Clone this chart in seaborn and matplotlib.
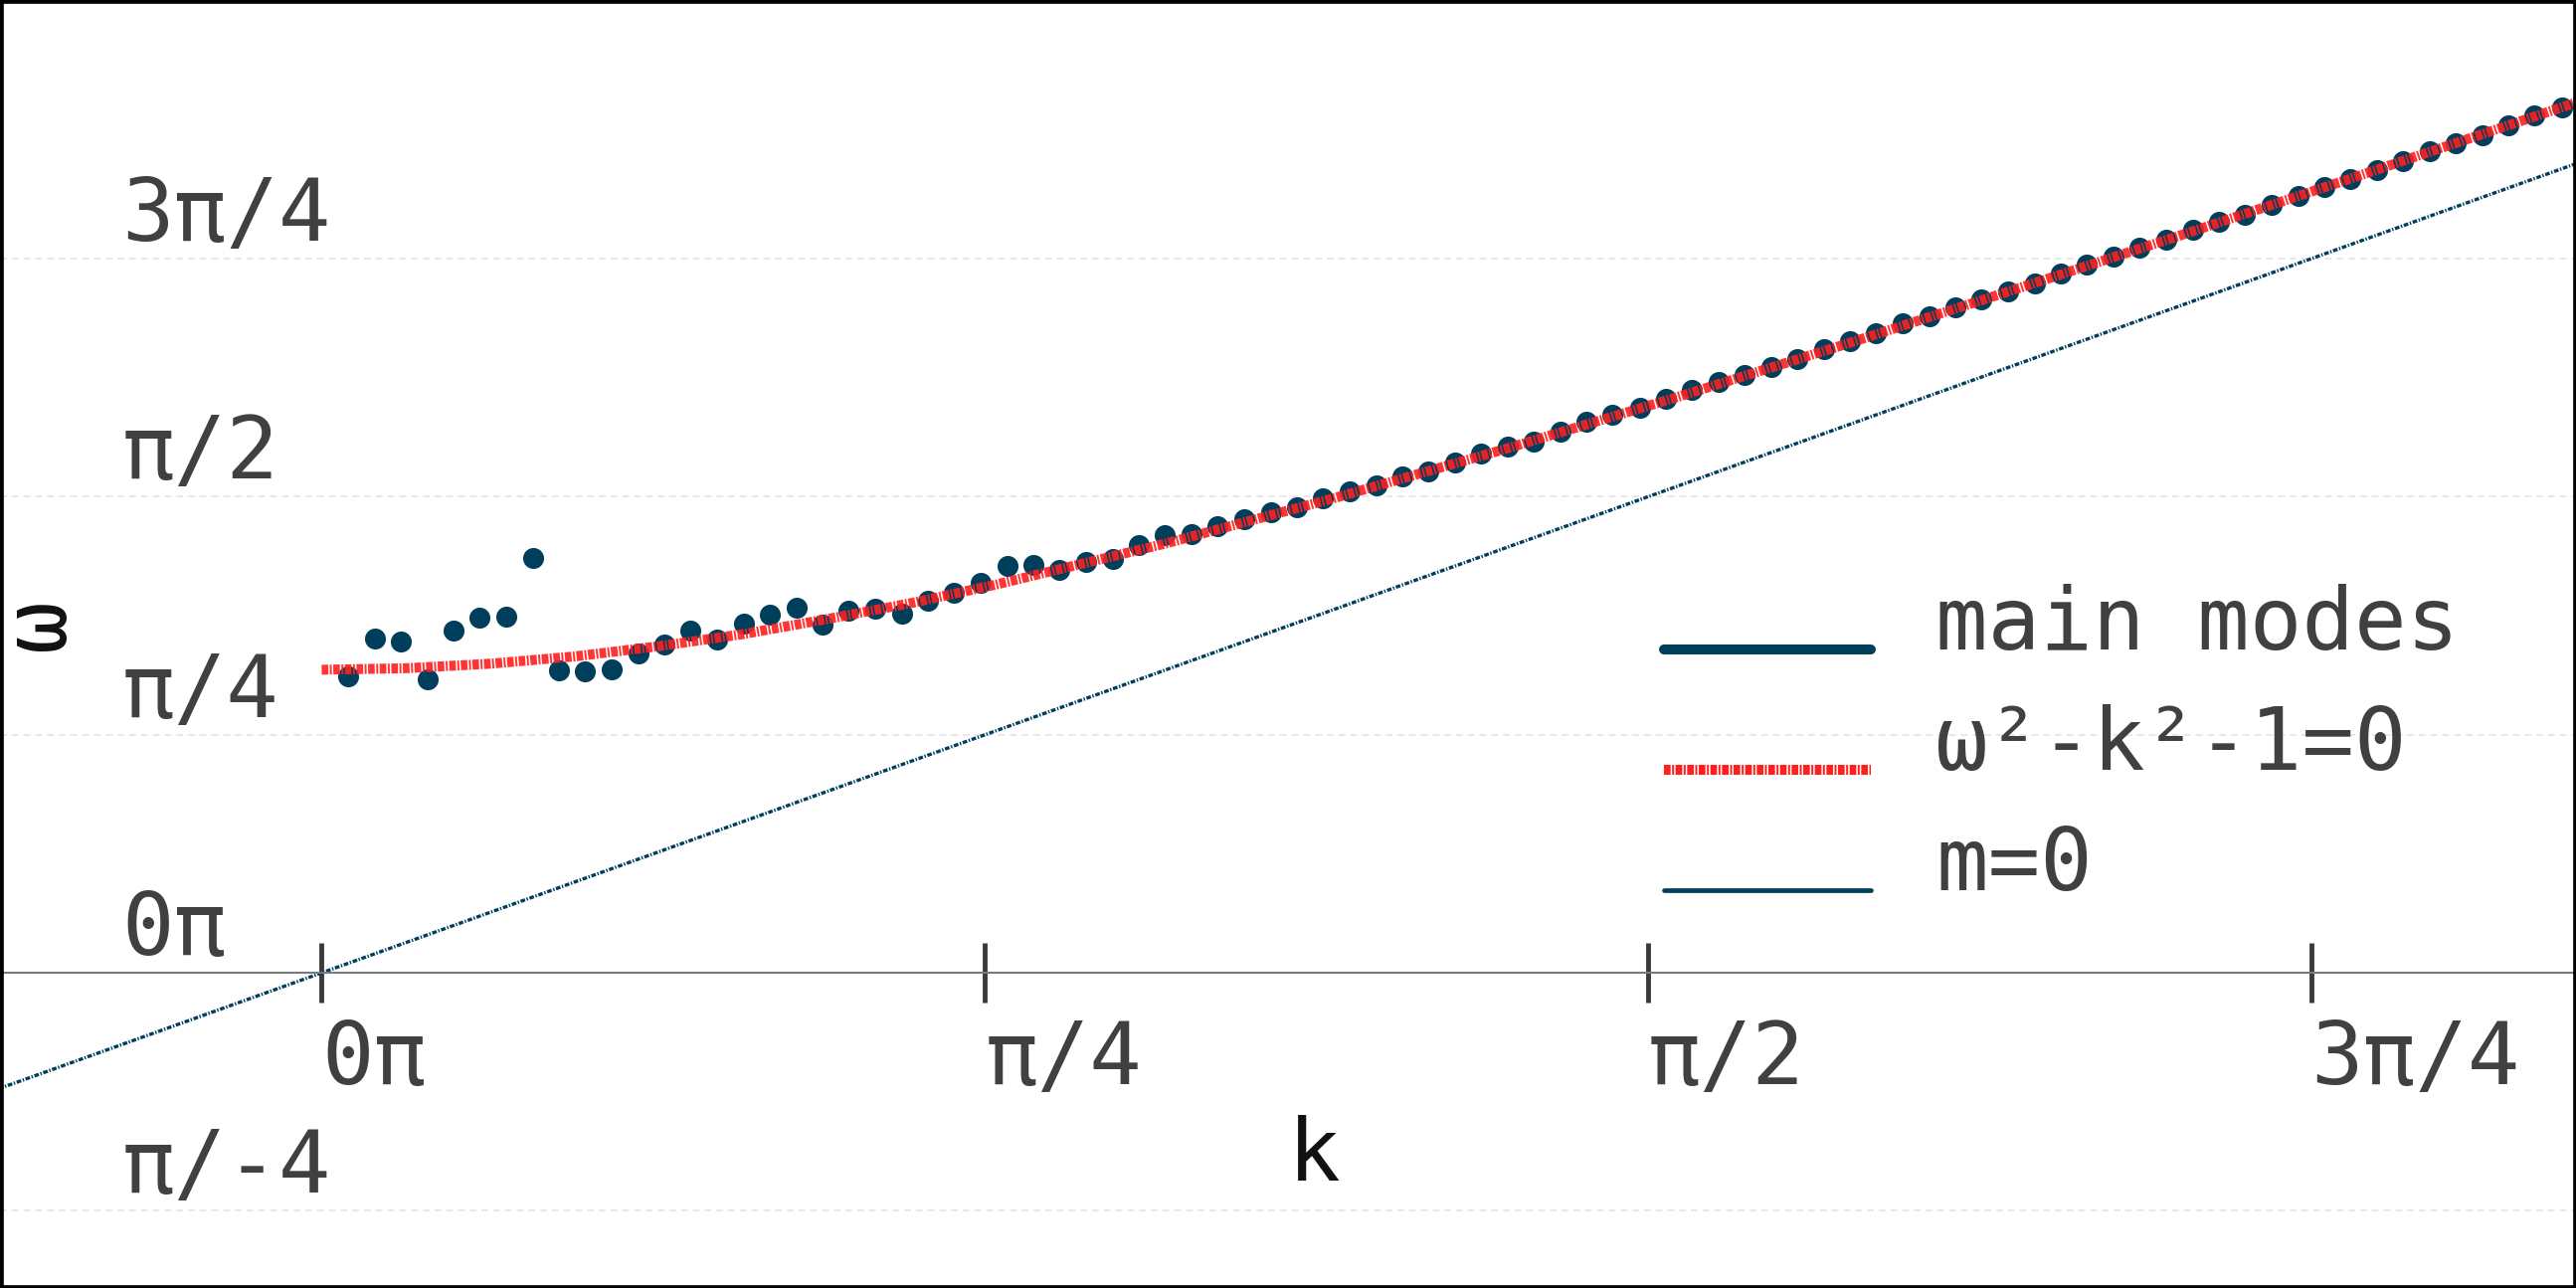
import numpy as np
import matplotlib
matplotlib.use("Agg")
import matplotlib.pyplot as plt
from matplotlib.lines import Line2D
from matplotlib.patches import Rectangle
from matplotlib.legend_handler import HandlerLine2D
import seaborn as sns

# main modes (k, omega)
k_modes = [0.031, 0.063, 0.094, 0.125, 0.156, 0.187, 0.219, 0.250, 0.281, 0.312,
           0.343, 0.375, 0.406, 0.437, 0.468, 0.500, 0.531, 0.562, 0.593, 0.624,
           0.656, 0.687, 0.718, 0.749, 0.780, 0.812, 0.843, 0.874, 0.905, 0.937,
           0.968, 0.999, 1.030, 1.061, 1.093, 1.124, 1.155, 1.186, 1.217, 1.249,
           1.280, 1.311, 1.342, 1.373, 1.405, 1.436, 1.467, 1.498, 1.529, 1.561,
           1.592, 1.623, 1.654, 1.685, 1.717, 1.748, 1.779, 1.810, 1.841, 1.873,
           1.904, 1.935, 1.966, 1.997, 2.029, 2.060, 2.091, 2.122, 2.153, 2.185,
           2.216, 2.247, 2.278, 2.309, 2.341, 2.372, 2.403, 2.434, 2.465, 2.497,
           2.528, 2.559, 2.590, 2.621, 2.653]
w_modes = [0.978, 1.104, 1.094, 0.969, 1.128, 1.172, 1.176, 1.369, 0.998, 0.994,
           1.002, 1.055, 1.082, 1.128, 1.100, 1.152, 1.182, 1.204, 1.149, 1.194,
           1.202, 1.184, 1.228, 1.254, 1.287, 1.343, 1.345, 1.328, 1.355, 1.365,
           1.410, 1.443, 1.448, 1.473, 1.498, 1.521, 1.536, 1.566, 1.588, 1.609,
           1.639, 1.655, 1.685, 1.714, 1.736, 1.752, 1.785, 1.818, 1.842, 1.863,
           1.894, 1.922, 1.950, 1.973, 1.998, 2.026, 2.057, 2.085, 2.109, 2.142,
           2.165, 2.196, 2.222, 2.247, 2.275, 2.307, 2.337, 2.362, 2.392, 2.420,
           2.451, 2.478, 2.502, 2.534, 2.565, 2.594, 2.619, 2.650, 2.679, 2.711,
           2.738, 2.765, 2.796, 2.829, 2.856]

# dispersion curve w^2 - k^2 - 1 = 0
k_curve = [0.0, 0.1, 0.2, 0.3, 0.4, 0.5, 0.6, 0.7, 0.8, 1.0,
           1.2, 1.4, 1.6, 1.8, 2.0, 2.2, 2.4, 2.6, 2.7]
w_curve = [1.000, 1.005, 1.020, 1.044, 1.078, 1.118, 1.168, 1.221, 1.282, 1.417,
           1.567, 1.727, 1.895, 2.070, 2.250, 2.432, 2.618, 2.806, 2.900]

# massless line m=0
k_m0 = [-0.40, 2.70]
w_m0 = [-0.40, 2.70]

legend_labels = ["main modes", "ω²-k²-1=0", "m=0"]
x_tick_vals = [0.0, np.pi / 4, np.pi / 2, 3 * np.pi / 4]
x_tick_labels = ["0π", "π/4", "π/2", "3π/4"]
y_tick_vals = [-np.pi / 4, 0.0, np.pi / 4, np.pi / 2, 3 * np.pi / 4]
y_tick_labels = ["π/-4", "0π", "π/4", "π/2", "3π/4"]

navy = "#003f5c"
red = "#ff1f1f"
text_col = "#404040"
fs = 63
red_ls = (0, (4.8, 1.1, 1.4, 1.1))
m0_ls = (0, (3.4, 1.2, 1.0, 1.2))

sns.set_theme(style="white")
plt.rcParams["font.family"] = ["DejaVu Sans Mono", "DejaVu Sans"]
plt.rcParams["lines.scale_dashes"] = False


class BaselineHandler(HandlerLine2D):
    # put legend lines on the text baseline
    def create_artists(self, legend, orig_handle, xdescent, ydescent,
                       width, height, fontsize, trans):
        arts = super().create_artists(legend, orig_handle, xdescent, ydescent,
                                      width, height, fontsize, trans)
        for a in arts:
            a.set_ydata(np.asarray(a.get_ydata()) - 0.35 * fontsize)
        return arts


fig = plt.figure(figsize=(25.9, 12.95), dpi=100)
ax = fig.add_axes([0, 0, 1, 1])

sns.lineplot(x=k_m0, y=w_m0, ax=ax, color=navy, linewidth=2.4,
             linestyle=m0_ls, zorder=2)
sns.scatterplot(x=k_modes, y=w_modes, ax=ax, color=navy, s=230,
                linewidth=0, zorder=3)
sns.lineplot(x=k_curve, y=w_curve, ax=ax, color=red, linewidth=7.2,
             alpha=0.9, linestyle=red_ls, zorder=4)

ax.set_xlim(-0.381, 2.670)
ax.set_ylim(-1.040, 3.210)

for s in ["top", "right", "left"]:
    ax.spines[s].set_visible(False)
ax.spines["bottom"].set_position(("data", 0))
ax.spines["bottom"].set_color("#7a7a7a")
ax.spines["bottom"].set_linewidth(1.5)

ax.set_xticks(x_tick_vals, x_tick_labels)
ax.set_yticks(y_tick_vals, y_tick_labels)
ax.tick_params(axis="x", bottom=True, direction="inout", length=42.7, width=3.5,
               color="#3a3a3a", pad=12, labelsize=fs, labelcolor=text_col)
ax.tick_params(axis="y", left=False, length=0, pad=-88, labelsize=fs,
               labelcolor=text_col)
plt.setp(ax.get_xticklabels(), ha="left")
plt.setp(ax.get_yticklabels(), ha="left", va="bottom")

ax.set_axisbelow(True)
ax.yaxis.grid(True, color="#e2e2e2", linestyle=(0, (5, 3.5)), linewidth=1.1)
ax.xaxis.grid(False)

ax.set_xlabel("k", fontsize=fs, color="#111111")
ax.xaxis.set_label_coords(0.51, 0.102)
ax.xaxis.label.set_va("center")
ax.set_ylabel("ω", fontsize=fs, color="#111111")
ax.yaxis.set_label_coords(40 / 2590, 0.515)
ax.yaxis.label.set_va("center")

handles = [Line2D([], [], color=navy, linewidth=7.2),
           Line2D([], [], color=red, linewidth=7.2, linestyle=red_ls),
           Line2D([], [], color=navy, linewidth=3.4)]
ax.legend(handles, legend_labels, loc="center left", bbox_to_anchor=(0.646, 0.421),
          frameon=False, fontsize=fs, labelcolor=text_col,
          handlelength=2.37, handletextpad=0.75, labelspacing=0.42,
          borderpad=0, borderaxespad=0,
          handler_map={Line2D: BaselineHandler()})

# black frame round the whole picture
fig.add_artist(Rectangle((0, 0), 1, 1, transform=fig.transFigure, fill=False,
                         edgecolor="black", linewidth=4.8, zorder=10))
fig.savefig("out.png", dpi=100)
